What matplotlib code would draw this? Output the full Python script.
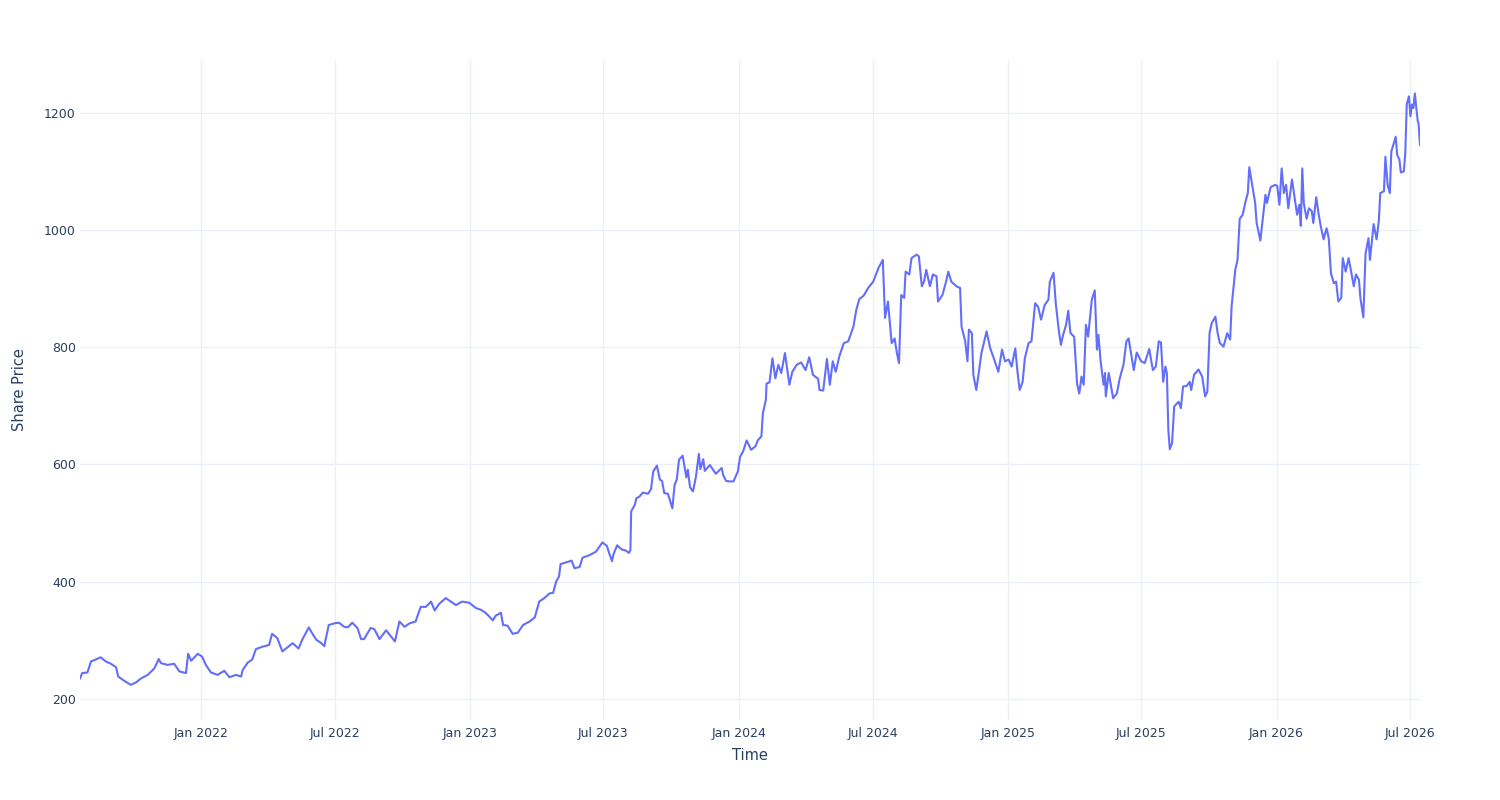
import matplotlib
matplotlib.use("Agg")
import matplotlib.pyplot as plt
import matplotlib.dates as mdates
import pandas as pd

# observation dates, as days counted from 2021-07-01
start_date = "2021-07-01"
day_offsets = [
    19, 22, 29, 34, 40, 47, 54, 61, 68, 71, 79, 88, 95, 102, 111, 120, 126, 129, 138, 147,
    154, 163, 166, 170, 179, 185, 190, 197, 206, 215, 222, 231, 238, 240, 247, 253, 258, 267, 276, 280,
    287, 294, 301, 308, 316, 321, 330, 335, 340, 346, 351, 357, 365, 371, 378,
    383, 389, 396, 401, 405, 414, 419, 426, 435, 442, 447, 453, 460, 467, 475, 482, 489, 496, 501, 507,
    516, 523, 530, 538, 548, 557, 564, 571, 580, 584, 591, 594, 600, 607, 614, 621, 630, 637, 643, 650,
    657, 662, 666, 670, 672, 680, 687, 691, 698, 702, 711, 720,
    729, 735, 738, 742, 744, 749, 755, 761, 765, 767, 768, 773, 775, 779, 784, 791, 795, 798, 803, 807,
    810, 813, 818, 824, 827, 830, 833, 838, 843, 845, 848, 852, 856, 860, 862, 866, 868, 875, 883, 891,
    893, 897, 902, 907, 913, 916, 920, 925, 931, 937, 940, 945, 947, 951,
    952, 956, 960, 964, 968, 972, 977, 983, 987, 993, 999, 1005, 1010, 1015, 1022, 1024, 1029, 1034, 1038, 1042,
    1046, 1051, 1057, 1063, 1070, 1074, 1078, 1084, 1090, 1097, 1104, 1110, 1113, 1117, 1122, 1126, 1129, 1132, 1135, 1139,
    1141, 1146, 1149, 1156, 1159, 1163, 1166, 1169, 1174, 1178, 1183, 1185, 1191, 1196, 1199, 1203, 1210, 1215, 1217, 1222,
    1225, 1227, 1231, 1233, 1237, 1240, 1244, 1251, 1256, 1260, 1267,
    1272, 1276, 1281, 1285, 1290, 1293, 1296, 1300, 1303, 1308, 1312, 1317, 1321, 1325, 1330, 1335, 1337, 1342, 1345, 1349,
    1352, 1355, 1359, 1362, 1365, 1370, 1374, 1377, 1380, 1383, 1386, 1389, 1394, 1398, 1401, 1403, 1406, 1410, 1412, 1413,
    1417, 1423, 1428, 1432, 1437, 1441, 1444, 1451, 1455, 1461, 1466, 1472, 1477, 1481, 1485, 1488, 1491, 1494, 1496, 1498,
    1500, 1503, 1506, 1512, 1515, 1518, 1523, 1527, 1529, 1533, 1539, 1544, 1548, 1551, 1554, 1557, 1562, 1565, 1568, 1573,
    1578, 1582, 1584, 1589, 1592, 1595, 1599, 1603, 1606, 1608, 1612, 1616, 1618, 1623, 1627, 1630, 1632, 1637, 1643, 1646,
    1649, 1652, 1655, 1658, 1661, 1666, 1669, 1673, 1676, 1678, 1680, 1682, 1686, 1689, 1693, 1695, 1699, 1702, 1705, 1709,
    1713, 1716, 1719, 1723, 1726, 1729, 1733, 1735, 1739, 1743, 1746, 1750, 1753, 1757, 1759, 1763, 1766, 1770, 1772, 1777,
    1781, 1784, 1786, 1791, 1793, 1796, 1799, 1801, 1803, 1807, 1809, 1812, 1814, 1818, 1820, 1822, 1825, 1827, 1829, 1831,
    1833, 1835, 1837, 1838, 1840,
]

share_price = [
    235, 244, 245, 264, 267, 271, 264, 260, 254, 238, 231, 224, 228, 235, 241, 252, 268, 261, 258, 260,
    247, 244, 277, 265, 277, 272, 258, 245, 241, 248, 237, 241, 238, 249, 262, 267, 285, 289, 292, 311,
    304, 281, 288, 295, 286, 301, 322, 311, 301, 296, 290, 326, 329, 330, 323,
    322, 330, 321, 302, 302, 321, 319, 302, 317, 306, 298, 332, 323, 329, 332, 357, 357, 366, 351, 362,
    372, 366, 360, 366, 364, 355, 352, 346, 334, 342, 347, 326, 325, 311, 313, 326, 332, 339, 366, 372,
    380, 381, 400, 409, 430, 433, 436, 423, 425, 441, 445, 451,
    467, 461, 449, 435, 447, 462, 455, 453, 449, 454, 520, 531, 542, 545, 552, 550, 558, 588, 598, 574,
    572, 551, 550, 525, 565, 574, 608, 615, 578, 591, 561, 554, 579, 618, 592, 609, 589, 599, 584, 594,
    582, 572, 571, 571, 588, 613, 622, 641, 625, 631, 641, 648, 687, 710,
    738, 740, 781, 747, 770, 756, 790, 736, 758, 770, 774, 761, 783, 753, 746, 727, 726, 780, 736, 776,
    758, 785, 807, 810, 835, 864, 882, 888, 901, 912, 935, 949, 850, 878, 807, 815, 791, 773, 889, 884,
    929, 924, 952, 958, 955, 904, 912, 932, 904, 924, 921, 878, 889, 912, 929, 912, 904, 901, 835, 810,
    776, 830, 824, 753, 727, 753, 790, 827, 798, 784, 758,
    796, 776, 779, 767, 798, 758, 727, 741, 781, 807, 810, 875, 869, 847, 872, 881, 912, 927, 875, 830,
    804, 821, 838, 862, 824, 818, 738, 721, 750, 736, 838, 818, 881, 897, 796, 821, 776, 736, 756, 716,
    756, 713, 721, 747, 770, 810, 815, 761, 791, 776, 773, 797, 761, 767, 810, 808, 741, 767, 756, 659,
    626, 636, 699, 707, 696, 733, 734, 741, 727, 753, 762, 750, 716, 724, 824, 841, 852, 824, 807, 801,
    824, 813, 870, 932, 949, 1019, 1026, 1049, 1063, 1107, 1077, 1046, 1012, 982, 1026, 1060, 1046, 1073, 1077, 1075,
    1043, 1105, 1063, 1077, 1037, 1086, 1060, 1026, 1043, 1007, 1105, 1046, 1019, 1037, 1032, 1012, 1056, 1029, 1007, 984,
    1003, 986, 926, 909, 912, 878, 884, 952, 929, 952, 932, 904, 924, 915, 884, 851, 960, 986, 949, 1010,
    984, 1015, 1063, 1066, 1125, 1077, 1063, 1134, 1142, 1159, 1128, 1120, 1098, 1100, 1131, 1215, 1228, 1194, 1214, 1208,
    1233, 1208, 1185, 1182, 1145,
]

y_ticks = [200, 400, 600, 800, 1000, 1200]

dates = pd.to_datetime(start_date) + pd.to_timedelta(day_offsets, unit="D")

text_color = "#2a3f5f"
grid_color = "#ebf0f8"

plt.rcParams["font.family"] = ["DejaVu Sans"]

fig = plt.figure(figsize=(15, 8), dpi=100)
ax = fig.add_axes([80 / 1500, 80 / 800, 1340 / 1500, 660 / 800])

ax.plot(dates, share_price, color="#636efa", linewidth=1.5, zorder=3)

ax.set_xlim(dates[0], dates[-1])
ax.set_ylim(164, 1290)
ax.set_yticks(y_ticks)

ax.xaxis.set_major_locator(mdates.MonthLocator(bymonth=[1, 7]))
ax.xaxis.set_major_formatter(mdates.DateFormatter("%b %Y"))

ax.grid(True, color=grid_color, linewidth=1, zorder=0)
ax.set_axisbelow(True)
for side in ax.spines.values():
    side.set_visible(False)

ax.tick_params(axis="both", length=0, labelsize=9, labelcolor=text_color)
ax.tick_params(axis="x", pad=5)
ax.tick_params(axis="y", pad=3)

ax.set_xlabel("Time", fontsize=10.5, color=text_color, labelpad=6)
ax.set_ylabel("Share Price", fontsize=10.5, color=text_color, labelpad=12)

fig.savefig("out.png", dpi=100, facecolor="white")
